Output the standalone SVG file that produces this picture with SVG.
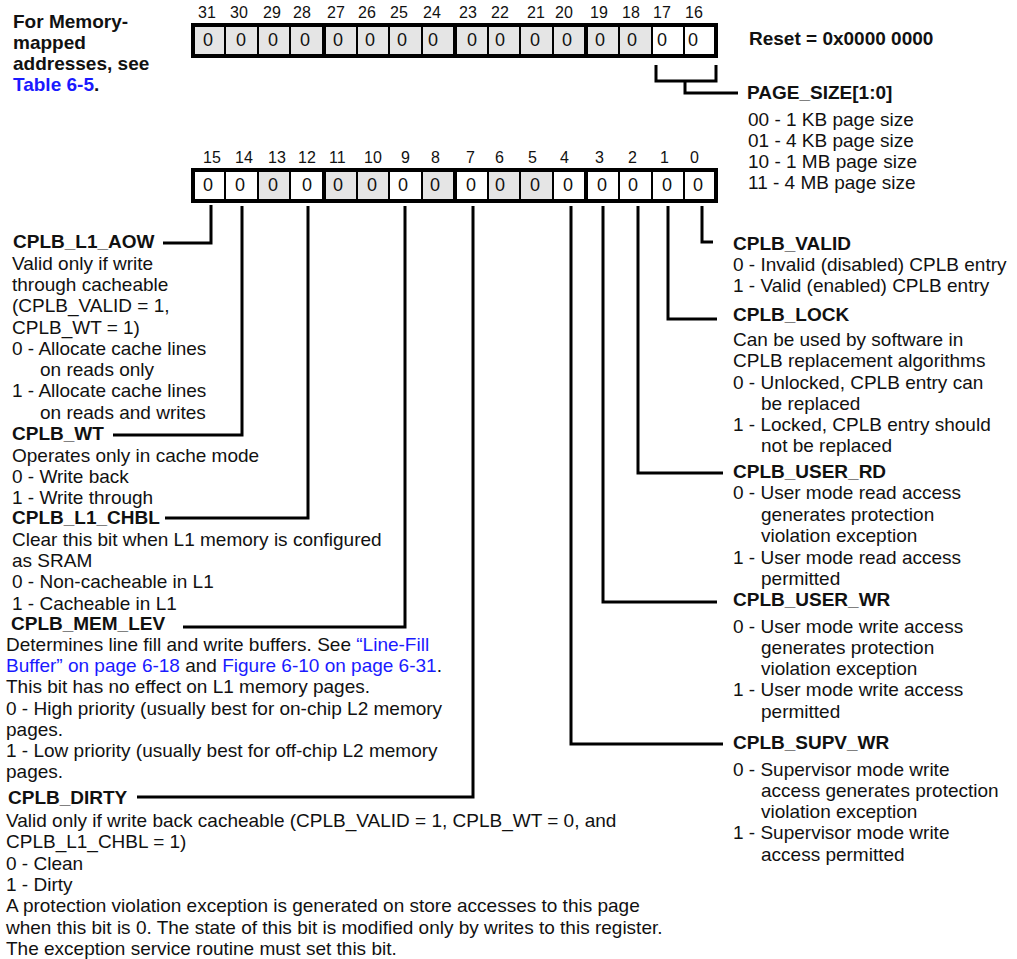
<svg xmlns="http://www.w3.org/2000/svg" width="1017" height="959" viewBox="0 0 1017 959">
<style>
text{font-family:"Liberation Sans",Arial,Helvetica,sans-serif;font-size:19px;fill:#111}
.b{font-weight:bold}
.lk{fill:#1a1aff}
.bn{font-size:16px}
.cz{font-size:18px}
.g{fill:#e5e5e5}
.w{fill:#fff}
.sep{stroke:#000;stroke-width:2}
.sepk{stroke:#000;stroke-width:4}
.box{fill:none;stroke:#000;stroke-width:4}
.ln{fill:none;stroke:#000;stroke-width:3;stroke-linejoin:miter;stroke-linecap:butt}
</style>
<rect width="1017" height="959" fill="#fff"/>

<g id="note">
<text class="b" x="13" y="28">For Memory-</text>
<text class="b" x="13" y="49">mapped</text>
<text class="b" x="13" y="70">addresses, see</text>
<text class="b" x="13" y="91"><tspan class="lk">Table 6-5</tspan>.</text>
</g>

<g id="register-high">
<text class="bn" x="198" y="18">31</text><text class="bn" x="230" y="18">30</text><text class="bn" x="263" y="18">29</text><text class="bn" x="293" y="18">28</text>
<text class="bn" x="327" y="18">27</text><text class="bn" x="358" y="18">26</text><text class="bn" x="390" y="18">25</text><text class="bn" x="423" y="18">24</text>
<text class="bn" x="459" y="18">23</text><text class="bn" x="491" y="18">22</text><text class="bn" x="527" y="18">21</text><text class="bn" x="555" y="18">20</text>
<text class="bn" x="590" y="18">19</text><text class="bn" x="622" y="18">18</text><text class="bn" x="653" y="18">17</text><text class="bn" x="685" y="18">16</text>
<rect class="g" x="193" y="25" width="459" height="31"/>
<rect class="w" x="652" y="25" width="64" height="31"/>
<g>
<line class="sep" x1="225" y1="25" x2="225" y2="56"/><line class="sep" x1="258" y1="25" x2="258" y2="56"/><line class="sep" x1="290" y1="25" x2="290" y2="56"/>
<line class="sepk" x1="324" y1="25" x2="324" y2="56"/>
<line class="sep" x1="357" y1="25" x2="357" y2="56"/><line class="sep" x1="389" y1="25" x2="389" y2="56"/><line class="sep" x1="422" y1="25" x2="422" y2="56"/>
<line class="sepk" x1="455" y1="25" x2="455" y2="56"/>
<line class="sep" x1="488" y1="25" x2="488" y2="56"/><line class="sep" x1="520" y1="25" x2="520" y2="56"/><line class="sep" x1="553" y1="25" x2="553" y2="56"/>
<line class="sepk" x1="586" y1="25" x2="586" y2="56"/>
<line class="sep" x1="619" y1="25" x2="619" y2="56"/><line class="sep" x1="652" y1="25" x2="652" y2="56"/><line class="sep" x1="684" y1="25" x2="684" y2="56"/>
</g>
<rect class="box" x="193" y="25" width="523" height="31"/>
<text class="cz" x="203" y="46">0</text><text class="cz" x="236" y="46">0</text><text class="cz" x="268" y="46">0</text><text class="cz" x="300" y="46">0</text>
<text class="cz" x="333" y="46">0</text><text class="cz" x="365" y="46">0</text><text class="cz" x="397" y="46">0</text><text class="cz" x="428" y="46">0</text>
<text class="cz" x="467" y="46">0</text><text class="cz" x="495" y="46">0</text><text class="cz" x="530" y="46">0</text><text class="cz" x="562" y="46">0</text>
<text class="cz" x="595" y="46">0</text><text class="cz" x="627" y="46">0</text><text class="cz" x="657" y="46">0</text><text class="cz" x="688" y="46">0</text>
</g>

<g id="reset">
<text class="b" x="749" y="45">Reset = 0x0000 0000</text>
</g>

<g id="page-size">
<text class="b" x="747" y="99">PAGE_SIZE[1:0]</text>
<text x="748" y="126">00 - 1 KB page size</text>
<text x="748" y="147">01 - 4 KB page size</text>
<text x="748" y="168">10 - 1 MB page size</text>
<text x="748" y="189">11 - 4 MB page size</text>
</g>

<g id="register-low">
<text class="bn" x="203" y="163">15</text><text class="bn" x="235" y="163">14</text><text class="bn" x="268" y="163">13</text><text class="bn" x="298" y="163">12</text>
<text class="bn" x="329" y="163">11</text><text class="bn" x="364" y="163">10</text><text class="bn" x="401" y="163">9</text><text class="bn" x="431" y="163">8</text>
<text class="bn" x="466" y="163">7</text><text class="bn" x="495" y="163">6</text><text class="bn" x="528" y="163">5</text><text class="bn" x="560" y="163">4</text>
<text class="bn" x="595" y="163">3</text><text class="bn" x="628" y="163">2</text><text class="bn" x="660" y="163">1</text><text class="bn" x="690" y="163">0</text>
<rect class="w" x="193" y="170" width="523" height="31"/>
<rect class="g" x="258" y="170" width="32" height="31"/>
<rect class="g" x="324" y="170" width="65" height="31"/>
<rect class="g" x="422" y="170" width="33" height="31"/>
<rect class="g" x="488" y="170" width="65" height="31"/>
<g>
<line class="sep" x1="225" y1="170" x2="225" y2="201"/><line class="sep" x1="258" y1="170" x2="258" y2="201"/><line class="sep" x1="290" y1="170" x2="290" y2="201"/>
<line class="sepk" x1="324" y1="170" x2="324" y2="201"/>
<line class="sep" x1="357" y1="170" x2="357" y2="201"/><line class="sep" x1="389" y1="170" x2="389" y2="201"/><line class="sep" x1="422" y1="170" x2="422" y2="201"/>
<line class="sepk" x1="455" y1="170" x2="455" y2="201"/>
<line class="sep" x1="488" y1="170" x2="488" y2="201"/><line class="sep" x1="520" y1="170" x2="520" y2="201"/><line class="sep" x1="553" y1="170" x2="553" y2="201"/>
<line class="sepk" x1="586" y1="170" x2="586" y2="201"/>
<line class="sep" x1="619" y1="170" x2="619" y2="201"/><line class="sep" x1="652" y1="170" x2="652" y2="201"/><line class="sep" x1="684" y1="170" x2="684" y2="201"/>
</g>
<rect class="box" x="193" y="170" width="523" height="31"/>
<text class="cz" x="203" y="191">0</text><text class="cz" x="235" y="191">0</text><text class="cz" x="268" y="191">0</text><text class="cz" x="302" y="191">0</text>
<text class="cz" x="333" y="191">0</text><text class="cz" x="367" y="191">0</text><text class="cz" x="398" y="191">0</text><text class="cz" x="430" y="191">0</text>
<text class="cz" x="466" y="191">0</text><text class="cz" x="495" y="191">0</text><text class="cz" x="530" y="191">0</text><text class="cz" x="563" y="191">0</text>
<text class="cz" x="597" y="191">0</text><text class="cz" x="628" y="191">0</text><text class="cz" x="662" y="191">0</text><text class="cz" x="693" y="191">0</text>
</g>

<g id="connectors">
<path class="ln" d="M656 65 V81 H716 V65"/>
<path class="ln" d="M685 81 V93 H738"/>
<path class="ln" d="M211 205 V243 H163"/>
<path class="ln" d="M242 206 V435 H113"/>
<path class="ln" d="M308 206 V518 H165"/>
<path class="ln" d="M405 206 V627 H183"/>
<path class="ln" d="M473 206 V797 H137"/>
<path class="ln" d="M702 206 V242 H713"/>
<path class="ln" d="M668 206 V319 H717"/>
<path class="ln" d="M638 206 V473 H723"/>
<path class="ln" d="M603 206 V602 H717"/>
<path class="ln" d="M571 206 V744 H723"/>
</g>

<g id="field-cplb-l1-aow">
<text class="b" x="13" y="248">CPLB_L1_AOW</text>
<text x="12" y="270">Valid only if write</text>
<text x="12" y="291">through cacheable</text>
<text x="12" y="312">(CPLB_VALID = 1,</text>
<text x="12" y="334">CPLB_WT = 1)</text>
<text x="12" y="355">0 - Allocate cache lines</text>
<text x="40" y="376">on reads only</text>
<text x="12" y="397">1 - Allocate cache lines</text>
<text x="40" y="419">on reads and writes</text>
</g>

<g id="field-cplb-wt">
<text class="b" x="12" y="440">CPLB_WT</text>
<text x="12" y="462">Operates only in cache mode</text>
<text x="12" y="483">0 - Write back</text>
<text x="12" y="504">1 - Write through</text>
</g>

<g id="field-cplb-l1-chbl">
<text class="b" x="12" y="524">CPLB_L1_CHBL</text>
<text x="12" y="546">Clear this bit when L1 memory is configured</text>
<text x="12" y="567">as SRAM</text>
<text x="12" y="588">0 - Non-cacheable in L1</text>
<text x="12" y="610">1 - Cacheable in L1</text>
</g>

<g id="field-cplb-mem-lev">
<text class="b" x="11" y="630">CPLB_MEM_LEV</text>
<text x="6" y="651">Determines line fill and write buffers. See <tspan class="lk">“Line-Fill</tspan></text>
<text x="6" y="672"><tspan class="lk">Buffer” on page 6-18</tspan> and <tspan class="lk">Figure 6-10 on page 6-31</tspan>.</text>
<text x="6" y="693">This bit has no effect on L1 memory pages.</text>
<text x="6" y="715">0 - High priority (usually best for on-chip L2 memory</text>
<text x="6" y="736">pages.</text>
<text x="6" y="757">1 - Low priority (usually best for off-chip L2 memory</text>
<text x="6" y="778">pages.</text>
</g>

<g id="field-cplb-dirty">
<text class="b" x="8" y="804">CPLB_DIRTY</text>
<text x="6" y="827">Valid only if write back cacheable (CPLB_VALID = 1, CPLB_WT = 0, and</text>
<text x="6" y="848">CPLB_L1_CHBL = 1)</text>
<text x="6" y="870">0 - Clean</text>
<text x="6" y="891">1 - Dirty</text>
<text x="6" y="912">A protection violation exception is generated on store accesses to this page</text>
<text x="6" y="934">when this bit is 0. The state of this bit is modified only by writes to this register.</text>
<text x="6" y="955">The exception service routine must set this bit.</text>
</g>

<g id="field-cplb-valid">
<text class="b" x="733" y="250">CPLB_VALID</text>
<text x="733" y="271">0 - Invalid (disabled) CPLB entry</text>
<text x="733" y="292">1 - Valid (enabled) CPLB entry</text>
</g>

<g id="field-cplb-lock">
<text class="b" x="733" y="321">CPLB_LOCK</text>
<text x="733" y="346">Can be used by software in</text>
<text x="733" y="367">CPLB replacement algorithms</text>
<text x="733" y="389">0 - Unlocked, CPLB entry can</text>
<text x="761" y="410">be replaced</text>
<text x="733" y="431">1 - Locked, CPLB entry should</text>
<text x="761" y="452">not be replaced</text>
</g>

<g id="field-cplb-user-rd">
<text class="b" x="733" y="478">CPLB_USER_RD</text>
<text x="733" y="499">0 - User mode read access</text>
<text x="761" y="521">generates protection</text>
<text x="761" y="542">violation exception</text>
<text x="733" y="564">1 - User mode read access</text>
<text x="761" y="585">permitted</text>
</g>

<g id="field-cplb-user-wr">
<text class="b" x="733" y="606">CPLB_USER_WR</text>
<text x="733" y="633">0 - User mode write access</text>
<text x="761" y="654">generates protection</text>
<text x="761" y="675">violation exception</text>
<text x="733" y="696">1 - User mode write access</text>
<text x="761" y="718">permitted</text>
</g>

<g id="field-cplb-supv-wr">
<text class="b" x="733" y="749">CPLB_SUPV_WR</text>
<text x="733" y="776">0 - Supervisor mode write</text>
<text x="761" y="797">access generates protection</text>
<text x="761" y="818">violation exception</text>
<text x="733" y="839">1 - Supervisor mode write</text>
<text x="761" y="861">access permitted</text>
</g>
</svg>
